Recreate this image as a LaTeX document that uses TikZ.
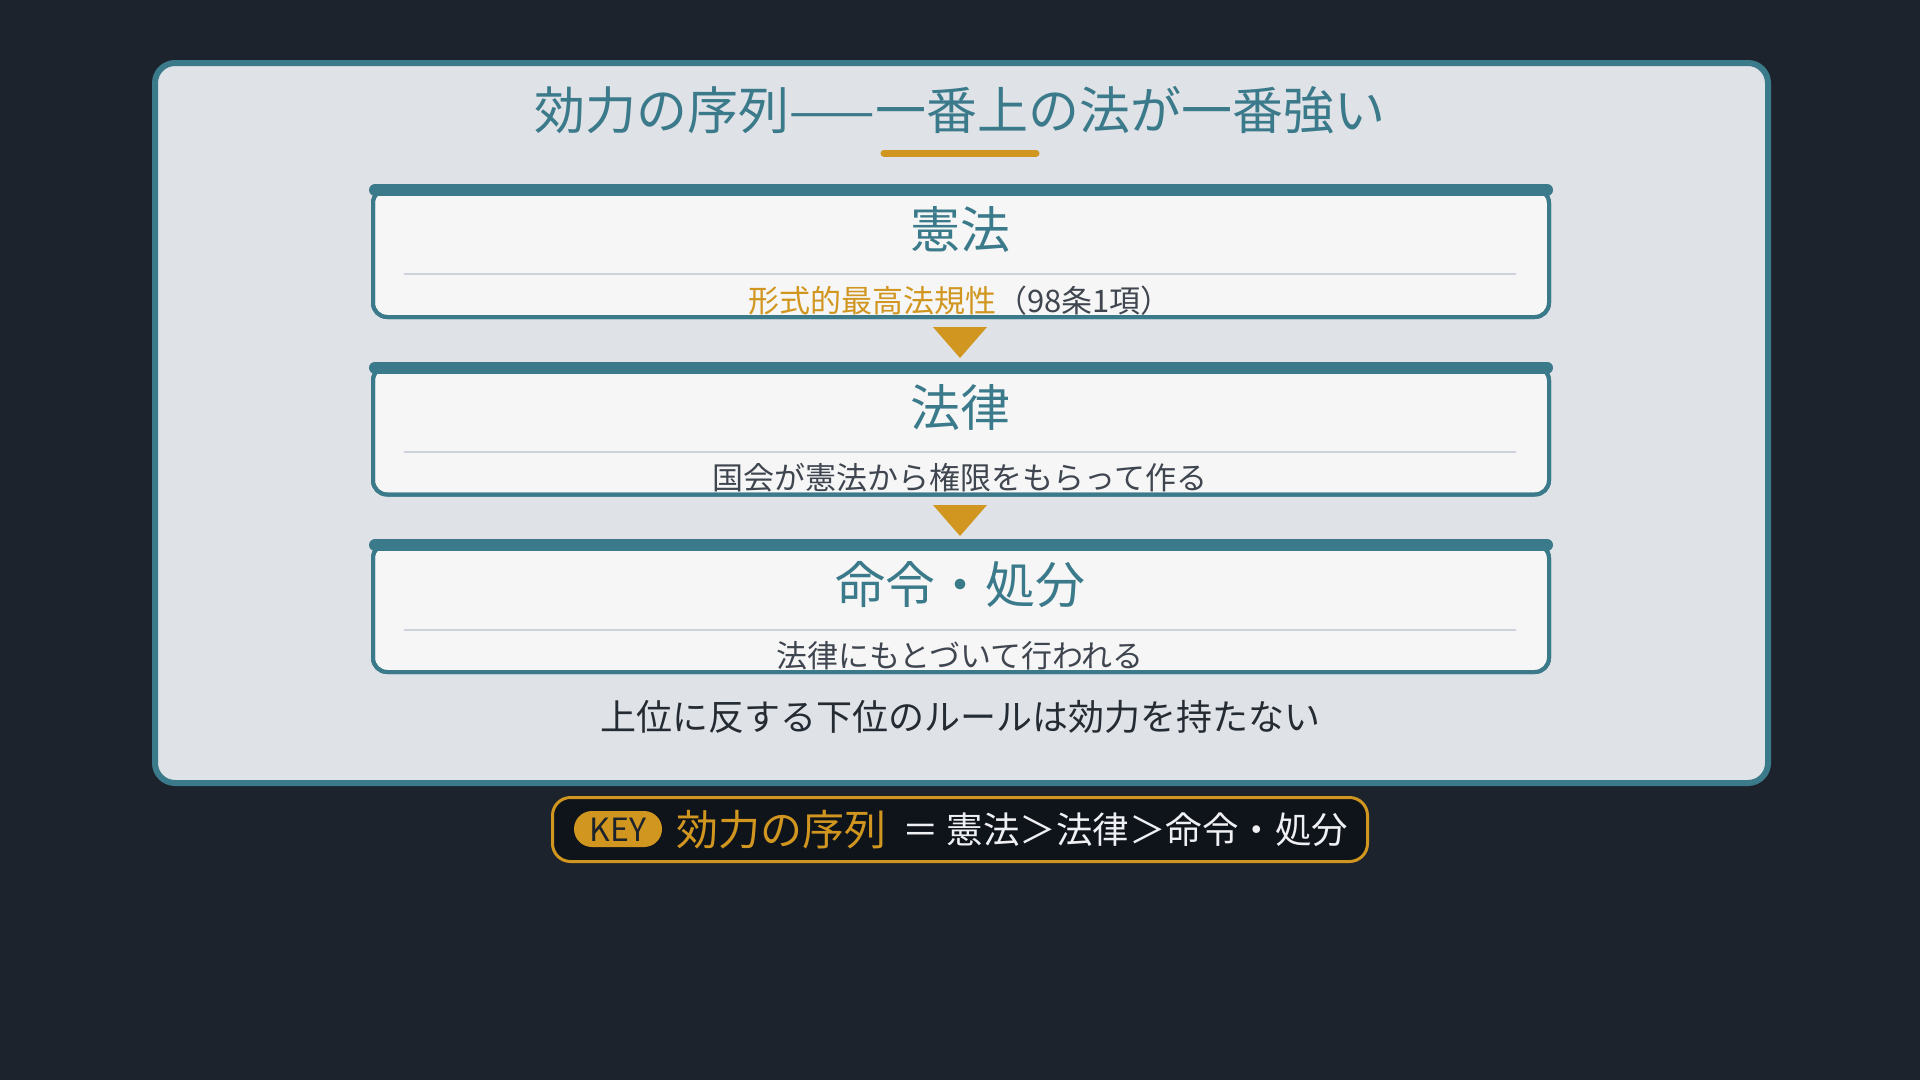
\documentclass[tikz,border=0pt]{standalone}
\usepackage{fontspec}
\setmainfont{Noto Sans CJK JP}
\definecolor{bgc}{HTML}{1C232D}
\definecolor{tealc}{HTML}{3B7A8A}
\definecolor{goldc}{HTML}{D1961F}
\definecolor{panelc}{HTML}{DFE2E7}
\definecolor{boxc}{HTML}{F6F6F6}
\definecolor{sepc}{HTML}{CDD1DA}
\definecolor{subc}{HTML}{3F4650}
\definecolor{notec}{HTML}{252B33}
\definecolor{keyfill}{HTML}{0F131A}
\definecolor{keytext}{HTML}{EEF0F3}
\newcommand{\fs}[1]{\fontsize{#1}{#1}\selectfont}
\tikzset{
  txt/.style={inner sep=0pt, anchor=base},
  lawbox/.style={draw=tealc, line width=4pt, fill=boxc, rounded corners=14pt,
    minimum width=1176pt, minimum height=128pt, inner sep=0pt},
  topbar/.style={draw=tealc, line width=12pt, line cap=round},
  sepline/.style={draw=sepc, line width=2pt},
  boxtitle/.style={txt, text=tealc, font=\fs{50}},
  boxsub/.style={txt, text=subc, font=\fs{31}},
  downtri/.style={fill=goldc},
}
\begin{document}
\begin{tikzpicture}[x=1pt,y=-1pt]
\fill[bgc] (0,0) rectangle (1920,1080);
\useasboundingbox (0,0) rectangle (1920,1080);

% outer panel
\node[draw=tealc, line width=6pt, fill=panelc, rounded corners=20pt,
  minimum width=1613pt, minimum height=720pt, inner sep=0pt] (panel) at (961.5,423) {};

% title
\node[txt, text=tealc, font=\fs{51}] (title) at (960,129) {効力の序列——一番上の法が一番強い};
\coordinate (ul1) at (884,153);
\coordinate (ul2) at (1036,153);
\draw[goldc, line width=7pt, line cap=round] (ul1) -- (ul2);

% box 1
\node[lawbox] (b1) at (961,253) {};
\node[boxsub] (s1) at (960,312)
  {\textcolor{goldc}{形式的最高法規性}（98条1項）};
\node[lawbox, fill=none] at (b1) {};
\draw[topbar] ([xshift=4pt,yshift=-3pt]b1.north west) -- ([xshift=-4pt,yshift=-3pt]b1.north east);
\node[boxtitle] (t1) at (960,248) {憲法};
\draw[sepline] (404,274) -- (1516,274);

% arrow 1
\fill[downtri] (933,327) -- (987,327) -- (960,358) -- cycle;

% box 2
\node[lawbox] (b2) at (961,430.5) {};
\node[boxsub] (s2) at (960,489.5) {国会が憲法から権限をもらって作る};
\node[lawbox, fill=none] at (b2) {};
\draw[topbar] ([xshift=4pt,yshift=-3pt]b2.north west) -- ([xshift=-4pt,yshift=-3pt]b2.north east);
\node[boxtitle] (t2) at (960,426) {法律};
\draw[sepline] (404,452) -- (1516,452);

% arrow 2
\fill[downtri] (933,505) -- (987,505) -- (960,536) -- cycle;

% box 3
\node[lawbox] (b3) at (961,608) {};
\node[boxsub] (s3) at (960,667) {法律にもとづいて行われる};
\node[lawbox, fill=none] at (b3) {};
\draw[topbar] ([xshift=4pt,yshift=-3pt]b3.north west) -- ([xshift=-4pt,yshift=-3pt]b3.north east);
\node[boxtitle] (t3) at (960,603) {命令・処分};
\draw[sepline] (404,630) -- (1516,630);

% bottom note
\node[txt, text=notec, font=\fs{36}] (note) at (960,730) {上位に反する下位のルールは効力を持たない};

% key box
\node[draw=goldc, line width=3pt, fill=keyfill, rounded corners=18pt,
  minimum width=815pt, minimum height=64pt, inner sep=0pt] (key) at (960,829.5) {};
\node[fill=goldc, rounded corners=18pt, minimum width=88pt, minimum height=36pt,
  inner sep=0pt] (pill) at (618,829) {};
\node[txt, text=bgc, font=\fs{32}] (keylbl) at (618,841) {KEY};
\node[txt, text=goldc, font=\fs{42}, anchor=base west] (kw) at (676,845) {効力の序列};
\node[txt, text=keytext, font=\fs{36.5}, anchor=base west] (kd) at (902,843) {＝ 憲法＞法律＞命令・処分};
\end{tikzpicture}
\end{document}
